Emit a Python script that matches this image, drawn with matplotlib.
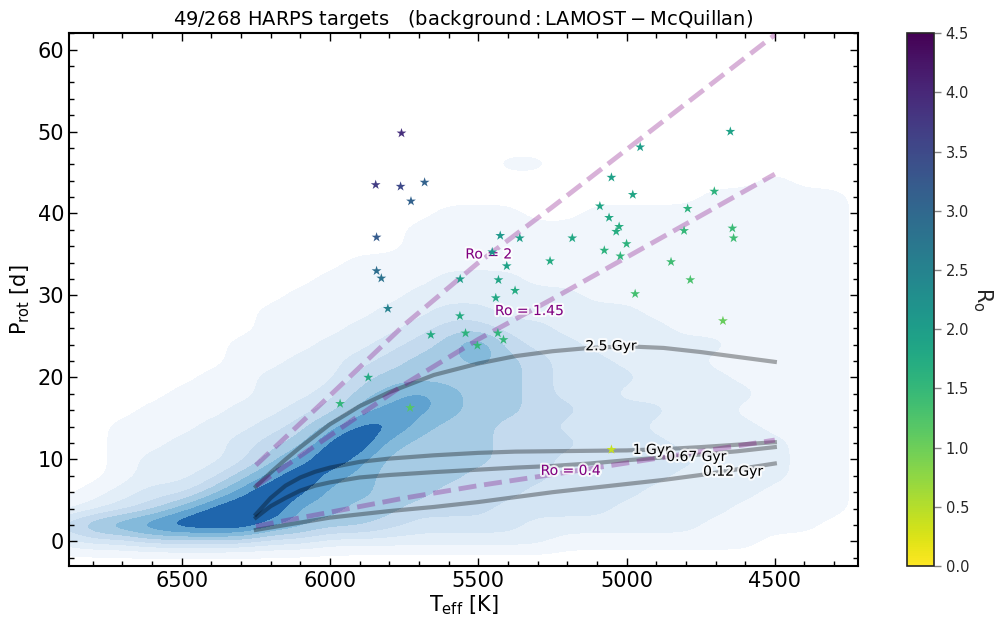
import numpy as np
import matplotlib
matplotlib.use('Agg')
import matplotlib.pyplot as plt
import matplotlib.patheffects as pe
from matplotlib.colors import ListedColormap, BoundaryNorm
from matplotlib.ticker import MultipleLocator

# HARPS targets (Teff [K], Prot [d], Rossby number)
star_teff = [5759, 5846, 5762, 5681, 5727, 5843, 5843, 5827, 5805, 5426,
             5360, 5453, 5404, 5561, 5432, 5376, 5441, 5562, 5660, 5543,
             5434, 5415, 5503, 4650, 4954, 5051, 4979, 5090, 4704, 5059,
             5025, 5035, 4794, 5183, 4806, 4643, 4639, 5000, 5075, 5021,
             5258, 4850, 4785, 4971, 4675, 5051, 5966, 5871, 5730]
star_prot = [49.8, 43.5, 43.3, 43.8, 41.5, 37.1, 33.0, 32.1, 28.4, 37.3,
             37.0, 35.3, 33.6, 32.0, 31.9, 30.6, 29.7, 27.5, 25.2, 25.4,
             25.4, 24.6, 23.9, 50.0, 48.1, 44.4, 42.3, 40.9, 42.7, 39.5,
             38.4, 37.8, 40.6, 37.0, 37.9, 38.2, 37.0, 36.3, 35.5, 34.8,
             34.2, 34.1, 31.9, 30.2, 26.9, 11.2, 16.8, 20.0, 16.3]
star_ro = [3.9, 3.7, 3.5, 3.1, 3.1, 3.2, 2.9, 2.8, 2.5, 2.1,
           2.0, 2.2, 1.9, 2.0, 1.85, 1.75, 1.8, 1.75, 1.75, 1.6,
           1.55, 1.5, 1.5, 1.9, 2.0, 1.95, 1.85, 1.85, 1.6, 1.8,
           1.7, 1.7, 1.6, 1.8, 1.5, 1.45, 1.4, 1.6, 1.6, 1.55,
           1.75, 1.4, 1.3, 1.35, 1.05, 0.4, 1.55, 1.75, 1.2]

# convective turnover time used for the constant Rossby lines
tau_teff = [6250, 6000, 5750, 5500, 5250, 5000, 4750, 4500]
tau_c = [4.65, 8.9, 13.2, 17.0, 20.4, 23.9, 27.4, 30.9]
ro_values = [2, 1.45, 0.4]
ro_labels = ['Ro = 2', 'Ro = 1.45', 'Ro = 0.4']
ro_label_pos = [(5465, 35.0), (5328, 28.1), (5189, 8.6)]

# gyrochrones
gyr_teff = [6250, 6200, 6150, 6100, 6050, 6000, 5900, 5800, 5650, 5500,
            5375, 5250, 5125, 5000, 4875, 4750, 4625, 4500]
gyr_prot = {
    '2.5 Gyr': [6.7, 8.4, 10.0, 11.5, 12.9, 14.3, 16.5, 18.2, 20.3, 21.7,
                22.6, 23.2, 23.6, 23.8, 23.6, 23.1, 22.5, 21.9],
    '1 Gyr': [3.3, 5.3, 6.8, 7.8, 8.5, 9.0, 9.7, 10.1, 10.5, 10.8,
              10.95, 11.0, 11.05, 11.1, 11.25, 11.5, 11.8, 12.1],
    '0.67 Gyr': [2.9, 4.3, 5.3, 6.2, 6.8, 7.2, 7.8, 8.1, 8.45, 8.75,
                 9.0, 9.2, 9.5, 9.9, 10.25, 10.6, 11.0, 11.5],
    '0.12 Gyr': [1.4, 1.7, 2.0, 2.3, 2.6, 2.9, 3.3, 3.7, 4.2, 4.8,
                 5.4, 6.0, 6.5, 7.0, 7.5, 8.1, 8.8, 9.5],
}
gyr_label_pos = {'2.5 Gyr': (5053, 23.8), '1 Gyr': (4915, 11.15),
                 '0.67 Gyr': (4765, 10.3), '0.12 Gyr': (4641, 8.5)}

# LAMOST-McQuillan background: density level read per Teff column,
# one digit per Prot row (-2, 0, 2, ... 48 d), missing rows are empty
bg_teff = [6900, 6800, 6700, 6600, 6500, 6400, 6300, 6200, 6100, 6000,
           5900, 5800, 5700, 5600, 5500, 5400, 5300, 5200, 5100, 5000,
           4900, 4800, 4700, 4600, 4500, 4400, 4300, 4200]
bg_prot = [-2, 0, 2, 4, 6, 8, 10, 12, 14, 16, 18, 20, 22, 24, 26, 28,
           30, 32, 34, 36, 38, 40, 42, 44, 46, 48]
bg_columns = ["0241",
              "03621",
              "037321111",
              "0484322111",
              "04963222111",
              "049853222111",
              "04997533221111",
              "0379975432221111",
              "03668975432221111",
              "025667986432221111",
              "0255667986543221111",
              "0245555687654322111",
              "023455556775543221111",
              "0234455556655543221111",
              "0234445555556743221111",
              "02334444455554322211110010",
              "02233444444443322111100010",
              "012333343433332221111",
              "0123333333333222111111",
              "0122333333232222111111",
              "0122233323222221111111",
              "0122223222222211111111",
              "01122222222212111111111",
              "01112222212111111111111",
              "001112221111111111111111",
              "00111111111111111111111",
              "00011111111111111111111",
              "0"]
bg_colors = ['#f1f6fc', '#e3eef8', '#d4e5f4', '#c4daee', '#a6cbe4',
             '#84badb', '#5fa2d0', '#1f66ad']

density = np.array([[int(ch) for ch in col.ljust(len(bg_prot), '0')[:len(bg_prot)]]
                    for col in bg_columns]).T

fig = plt.figure(figsize=(10.01, 6.21), dpi=100)
ax = fig.add_axes([0.069, 0.0886, 0.788, 0.858])

# filled density levels, smoothed by the image resampling
bg_cmap = ListedColormap(bg_colors)
bg_cmap.set_under((1, 1, 1, 0))
bg_cmap.set_over(bg_colors[-1])
bg_norm = BoundaryNorm(np.arange(0.5, 9.0, 1.0), len(bg_colors))
dT = bg_teff[0] - bg_teff[1]
dP = bg_prot[1] - bg_prot[0]
ax.imshow(density, origin='lower', cmap=bg_cmap, norm=bg_norm,
          interpolation='bicubic', interpolation_stage='data',
          extent=[bg_teff[0] + dT / 2, bg_teff[-1] - dT / 2,
                  bg_prot[0] - dP / 2, bg_prot[-1] + dP / 2],
          aspect='auto', zorder=1)

halo = [pe.withStroke(linewidth=3, foreground='w', alpha=0.8)]

for name, prot in gyr_prot.items():
    ax.plot(gyr_teff, prot, color='k', alpha=0.33, lw=3, zorder=2)
    tx, ty = gyr_label_pos[name]
    ax.text(tx, ty, name, fontsize=10, ha='center', va='center',
            path_effects=halo, zorder=4)

for ro, lab, (tx, ty) in zip(ro_values, ro_labels, ro_label_pos):
    ax.plot(tau_teff, ro * np.array(tau_c), color='purple', alpha=0.3,
            lw=3.5, ls='--', zorder=3)
    ax.text(tx, ty, lab, fontsize=10, color='purple', ha='center',
            va='center', path_effects=halo, zorder=4)

sc = ax.scatter(star_teff, star_prot, c=star_ro, cmap='viridis_r', vmin=0,
                vmax=4.5, marker='*', s=55, edgecolors='none', zorder=5)

ax.set_xlim(6880, 4220)
ax.set_ylim(-3, 62)
ax.xaxis.set_major_locator(MultipleLocator(500))
ax.xaxis.set_minor_locator(MultipleLocator(100))
ax.yaxis.set_major_locator(MultipleLocator(10))
ax.yaxis.set_minor_locator(MultipleLocator(2))
ax.tick_params(which='both', direction='in', top=True, right=True, width=1)
ax.tick_params(which='major', length=6, labelsize=15)
ax.tick_params(which='minor', length=3.5)
for sp in ax.spines.values():
    sp.set_linewidth(1.5)

ax.set_xlabel(r'T$_{\rm eff}$ [K]', fontsize=15, labelpad=2)
ax.set_ylabel(r'P$_{\rm rot}$ [d]', fontsize=15)
ax.set_title(r'49/268 HARPS targets   $\rm (background: LAMOST-McQuillan)$',
             fontsize=14, pad=6)

cax = fig.add_axes([0.906, 0.0886, 0.027, 0.858])
cbar = fig.colorbar(sc, cax=cax, ticks=np.arange(0, 4.51, 0.5))
cbar.ax.tick_params(labelsize=10.5, color='0.5', labelcolor='0.15',
                    length=5, width=1)
cbar.outline.set_edgecolor('0.15')
cbar.outline.set_linewidth(1.2)
cbar.set_label(r'R$_{\rm o}$', rotation=270, fontsize=15, labelpad=18,
               color='0.15')

fig.savefig('out.png', dpi=100)
